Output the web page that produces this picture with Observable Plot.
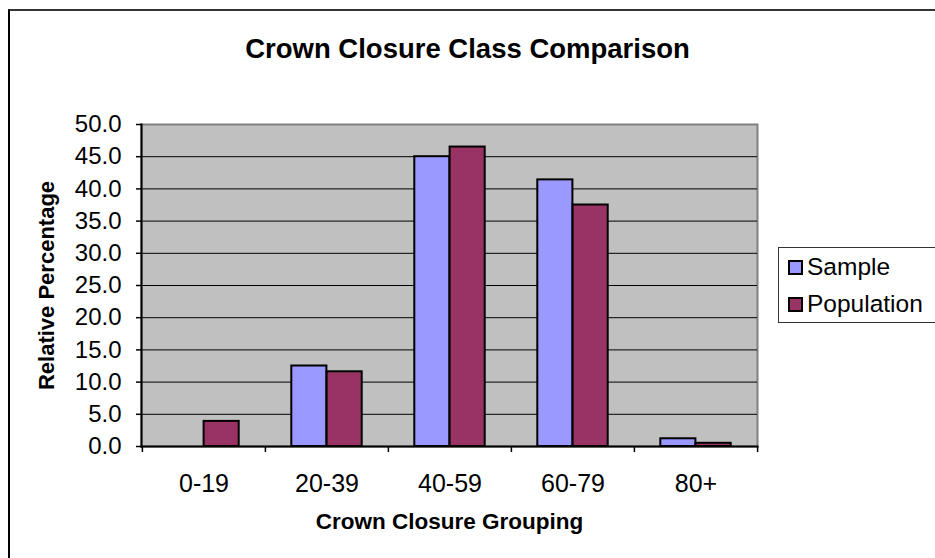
<!DOCTYPE html>
<html><head><meta charset="utf-8">
<script src="https://cdn.jsdelivr.net/npm/d3@7"></script>
<script src="https://cdn.jsdelivr.net/npm/@observablehq/plot@0.6"></script>
<style>
body{margin:0;background:#fff;font-family:"Liberation Sans",Arial,sans-serif;overflow:hidden}
#wrap{position:relative;width:935px;height:558px;overflow:hidden}
#outer{position:absolute;left:8px;top:9px;width:1000px;height:700px;border-left:2px solid #000;border-top:2px solid #333;box-sizing:border-box}
#legend{position:absolute;left:778px;top:247px;width:175px;height:76px;border:1px solid #333;background:#fff;box-sizing:border-box;font-size:24.5px;color:#000}
.item{position:absolute;left:9px;display:flex;align-items:center;white-space:nowrap}
.sw{width:11px;height:11px;border:2px solid #000;margin-right:4px}
</style></head><body>
<div id="wrap"><div id="outer"></div></div>
<script>
const categories = ["0-19", "20-39", "40-59", "60-79", "80+"];
const sampleValues = [0, 12.5, 45.0, 41.4, 1.2];
const populationValues = [3.9, 11.6, 46.5, 37.5, 0.5];
const seriesNames = ["Sample", "Population"];
const seriesColors = ["#9999FF", "#993366"];
const yTicks = [0, 5, 10, 15, 20, 25, 30, 35, 40, 45, 50];
const titleText = "Crown Closure Class Comparison";
const xLabel = "Crown Closure Grouping";
const yLabel = "Relative Percentage";

const rows = [];
categories.forEach((c, i) => {
  rows.push({category: c, series: seriesNames[0], value: sampleValues[i]});
  rows.push({category: c, series: seriesNames[1], value: populationValues[i]});
});

const W = 935, H = 558, mL = 141, mR = 178, mT = 124, mB = 112;
const bw = (W - mL - mR) / categories.length;
const barW = 35.3;
const inset = (bw - barW) / 2;

const chart = Plot.plot({
  width: W, height: H,
  marginLeft: mL, marginRight: mR, marginTop: mT, marginBottom: mB,
  style: {fontFamily: '"Liberation Sans", Arial, sans-serif', color: "#000", background: "transparent", overflow: "visible"},
  x: {domain: categories, padding: 0, label: null},
  y: {domain: [0, 50], ticks: yTicks, label: null},
  marks: [
    Plot.frame({fill: "#C0C0C0", stroke: "#808080", strokeWidth: 2}),
    Plot.ruleY(yTicks.slice(1, -1), {stroke: "#000", strokeWidth: 1}),
    Plot.barY(rows.filter(d => d.series === seriesNames[0] && d.value > 0), {x: "category", y: "value", fill: seriesColors[0], stroke: "#000", strokeWidth: 2, insetLeft: inset, insetRight: inset, dx: -barW / 2}),
    Plot.barY(rows.filter(d => d.series === seriesNames[1] && d.value > 0), {x: "category", y: "value", fill: seriesColors[1], stroke: "#000", strokeWidth: 2, insetLeft: inset, insetRight: inset, dx: barW / 2}),
    Plot.axisY({ticks: yTicks, tickFormat: d => d.toFixed(1), tickSize: 5, tickPadding: 15, stroke: "#000", strokeWidth: 1.5, fontSize: 24}),
    Plot.axisX({ticks: categories, tickFormat: () => "", tickSize: 6, dx: -bw / 2, strokeWidth: 1.5}),
    Plot.axisX({ticks: categories.slice(-1), tickFormat: () => "", tickSize: 6, dx: bw / 2, strokeWidth: 1.5}),
    Plot.axisX({ticks: categories, tickSize: 0, tickPadding: 28, fontSize: 25}),
    Plot.frame({anchor: "left", stroke: "#000", strokeWidth: 2}),
    Plot.frame({anchor: "bottom", stroke: "#000", strokeWidth: 2}),
    Plot.text([titleText], {text: d => d, frameAnchor: "top", dy: -86, fontWeight: "bold", fontSize: 27.5, dx: 467 - (mL + (W - mL - mR) / 2)}),
    Plot.text([xLabel], {text: d => d, frameAnchor: "bottom", dy: 82, fontWeight: "bold", fontSize: 22.5}),
    Plot.text([yLabel], {text: d => d, frameAnchor: "left", textAnchor: "middle", dx: -95, rotate: -90, fontWeight: "bold", fontSize: 22})
  ]
});
chart.style.position = "absolute";
chart.style.left = "0";
chart.style.top = "0";
const wrap = document.getElementById("wrap");
wrap.appendChild(chart);

const legend = document.createElement("div");
legend.id = "legend";
seriesNames.forEach((s, i) => {
  const it = document.createElement("div");
  it.className = "item";
  it.style.top = (i === 0 ? 5 : 42) + "px";
  it.innerHTML = `<span class="sw" style="background:${seriesColors[i]}"></span><span>${s}</span>`;
  legend.appendChild(it);
});
wrap.appendChild(legend);
</script>
</body></html>
